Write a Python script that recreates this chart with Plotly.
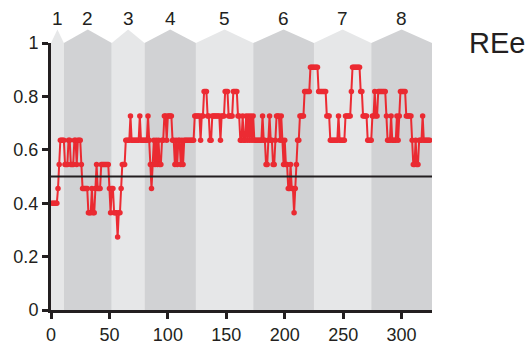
import plotly.graph_objects as go

# REe per position (sampled at each integer position)
ree = [
    0.4, 0.4, 0.4, 0.4, 0.4, 0.455, 0.545, 0.636, 0.636, 0.636,
    0.636, 0.545, 0.545, 0.545, 0.636, 0.636, 0.545, 0.545, 0.545, 0.636,
    0.636, 0.545, 0.636, 0.636, 0.636, 0.545, 0.455, 0.455, 0.455, 0.455,
    0.455, 0.364, 0.364, 0.364, 0.455, 0.364, 0.364, 0.455, 0.545, 0.455,
    0.455, 0.455, 0.545, 0.545, 0.545, 0.545, 0.545, 0.545, 0.545, 0.455,
    0.364, 0.455, 0.455, 0.364, 0.364, 0.364, 0.273, 0.364, 0.364, 0.455,
    0.545, 0.545, 0.545, 0.636, 0.636, 0.636, 0.636, 0.727, 0.636, 0.636,
    0.636, 0.636, 0.636, 0.636, 0.636, 0.727, 0.636, 0.636, 0.636, 0.636,
    0.636, 0.636, 0.727, 0.636, 0.545, 0.455, 0.545, 0.636, 0.545, 0.636,
    0.545, 0.636, 0.545, 0.545, 0.636, 0.636, 0.727, 0.727, 0.636, 0.727,
    0.727, 0.727, 0.727, 0.636, 0.636, 0.545, 0.636, 0.545, 0.636, 0.636,
    0.545, 0.636, 0.545, 0.636, 0.636, 0.636, 0.636, 0.636, 0.636, 0.636,
    0.636, 0.636, 0.727, 0.727, 0.727, 0.727, 0.727, 0.636, 0.727, 0.727,
    0.818, 0.818, 0.818, 0.727, 0.727, 0.636, 0.636, 0.727, 0.727, 0.727,
    0.727, 0.727, 0.727, 0.727, 0.636, 0.727, 0.727, 0.727, 0.818, 0.818,
    0.818, 0.727, 0.727, 0.727, 0.727, 0.818, 0.818, 0.818, 0.818, 0.727,
    0.727, 0.636, 0.636, 0.727, 0.636, 0.636, 0.727, 0.636, 0.727, 0.636,
    0.727, 0.636, 0.727, 0.636, 0.636, 0.636, 0.636, 0.636, 0.636, 0.636,
    0.727, 0.636, 0.636, 0.545, 0.545, 0.636, 0.727, 0.636, 0.636, 0.545,
    0.545, 0.636, 0.727, 0.727, 0.727, 0.636, 0.727, 0.636, 0.545, 0.636,
    0.545, 0.545, 0.455, 0.455, 0.545, 0.455, 0.455, 0.364, 0.455, 0.545,
    0.636, 0.636, 0.727, 0.727, 0.727, 0.727, 0.818, 0.818, 0.818, 0.818,
    0.818, 0.909, 0.909, 0.909, 0.909, 0.909, 0.909, 0.909, 0.818, 0.818,
    0.818, 0.818, 0.818, 0.818, 0.818, 0.727, 0.727, 0.727, 0.636, 0.636,
    0.636, 0.636, 0.636, 0.636, 0.636, 0.727, 0.636, 0.636, 0.636, 0.636,
    0.636, 0.727, 0.727, 0.727, 0.727, 0.727, 0.818, 0.909, 0.909, 0.909,
    0.909, 0.909, 0.909, 0.909, 0.818, 0.818, 0.727, 0.727, 0.727, 0.727,
    0.636, 0.636, 0.636, 0.636, 0.727, 0.727, 0.818, 0.727, 0.727, 0.818,
    0.818, 0.818, 0.818, 0.818, 0.818, 0.818, 0.727, 0.636, 0.636, 0.636,
    0.727, 0.636, 0.636, 0.636, 0.636, 0.727, 0.636, 0.727, 0.818, 0.818,
    0.818, 0.818, 0.818, 0.727, 0.727, 0.727, 0.727, 0.727, 0.636, 0.545,
    0.545, 0.636, 0.545, 0.545, 0.636, 0.636, 0.636, 0.727, 0.636, 0.636,
    0.636, 0.636, 0.636, 0.636,
]
positions = list(range(1, len(ree) + 1))

# Segment boundaries along the x axis and their labels
segment_edges = [0, 11, 52, 80, 124, 173, 225, 274, 326]
segment_labels = ["1", "2", "3", "4", "5", "6", "7", "8"]
segment_colors = ["#e6e7e8", "#d1d2d4"]

threshold = 0.5
x_ticks = [0, 50, 100, 150, 200, 250, 300]
y_ticks = [0, 0.2, 0.4, 0.6, 0.8, 1]
y_tick_text = ["0", "0.2", "0.4", "0.6", "0.8", "1"]

INK = "#231f20"
FONT = "Liberation Sans, Arial, sans-serif"

fig = go.Figure()

fig.add_trace(go.Scatter(
    x=positions, y=ree, mode="lines+markers",
    line=dict(color="#ed1c24", width=2),
    marker=dict(color="#ed1c24", size=5.5),
    opacity=0.92, showlegend=False, hoverinfo="x+y",
))

shapes = []
annotations = []
for i, label in enumerate(segment_labels):
    x0, x1 = segment_edges[i], segment_edges[i + 1]
    xm = (x0 + x1) / 2
    shapes.append(dict(
        type="path", xref="x", yref="paper", layer="below",
        path=f"M {x0},0 L {x0},1 L {xm},1.051 L {x1},1 L {x1},0 Z",
        fillcolor=segment_colors[i % 2], line=dict(width=0),
    ))
    annotations.append(dict(
        x=xm, y=1.09, xref="x", yref="paper", text=label, showarrow=False,
        font=dict(size=19, color=INK, family=FONT),
        xanchor="center", yanchor="middle",
    ))

shapes.append(dict(
    type="line", xref="x", yref="y", layer="above",
    x0=segment_edges[0], x1=segment_edges[-1], y0=threshold, y1=threshold,
    line=dict(color=INK, width=2),
))

annotations.append(dict(
    x=1.092, y=1.0, xref="paper", yref="paper", text="REe", showarrow=False,
    font=dict(size=29, color=INK, family=FONT),
    xanchor="left", yanchor="middle",
))

fig.update_layout(
    width=525, height=345,
    margin=dict(l=51, r=93, t=43, b=35),
    paper_bgcolor="white", plot_bgcolor="white",
    shapes=shapes, annotations=annotations,
    font=dict(family=FONT, color=INK, size=18),
    xaxis=dict(
        range=[segment_edges[0], segment_edges[-1]], automargin=False,
        tickvals=x_ticks, ticks="outside", ticklen=6, tickwidth=2.5,
        tickcolor=INK, showline=True, linecolor=INK, linewidth=3,
        showgrid=False, zeroline=False, tickfont=dict(size=18, color=INK),
    ),
    yaxis=dict(
        range=[0, 1], automargin=False, tickvals=y_ticks, ticktext=y_tick_text,
        ticks="outside", ticklen=6, tickwidth=2.5, tickcolor=INK,
        showline=True, linecolor=INK, linewidth=3,
        showgrid=False, zeroline=False, tickfont=dict(size=18, color=INK),
    ),
)

fig.write_html("out.html")
